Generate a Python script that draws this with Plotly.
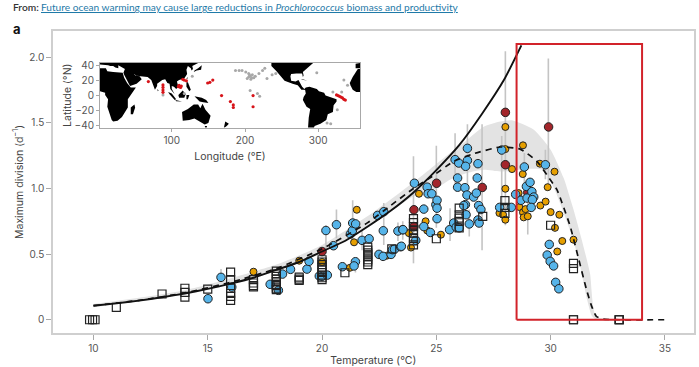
import plotly.graph_objects as go

# ---- main panel data ----
blue_t = [15.58,15.01,16.05,17.73,18.09,18.27,18.62,19.34,19.43,19.88,20.0,20.23,20.17,20.63,20.5,20.89,21.24,21.33,21.34,21.47,21.46,21.4,21.75,22.06,22.43,22.7,22.68,22.49,22.67,23.02,23.08,23.17,23.32,23.53,23.44,23.47,23.54,24.1,24.04,24.45,24.45,24.6,24.64,24.8,24.74,24.98,25.03,25.03,25.03,25.58,25.76,25.87,26.0,25.93,25.93,25.82,25.98,26.25,26.27,26.2,26.3,26.34,26.36,26.36,26.28,26.44,26.63,26.75,26.79,26.82,26.85,26.95,26.82,26.87,27.77,27.86,28.28,28.47,28.7,28.85,28.94,28.97,29.1,29.18,29.26,29.2,29.15,29.77,29.94,29.85,29.98,30.13,30.22,30.36]
blue_v = [0.323,0.16,0.249,0.27,0.224,0.348,0.384,0.386,0.445,0.333,0.33,0.34,0.68,0.724,0.564,0.404,0.653,0.68,0.737,0.73,0.442,0.41,0.605,0.617,0.795,0.823,0.678,0.498,0.483,0.498,0.534,0.537,0.676,0.686,0.556,0.56,0.686,0.605,1.04,0.843,0.71,1.01,0.96,0.96,0.665,0.877,0.91,0.85,0.77,0.686,0.737,0.706,0.7,1.08,1.01,1.22,1.194,1.006,0.877,0.87,0.8,0.95,1.306,1.214,1.169,0.73,0.935,0.965,1.08,1.189,0.87,0.84,0.76,0.737,0.856,1.293,0.856,0.955,0.91,1.164,1.016,0.927,1.047,0.976,0.935,0.915,0.856,1.181,0.574,0.493,0.445,0.41,0.285,0.236]
orange_t = [17.0,19.0,20.0,21.22,21.4,21.52,22.83,23.8,23.89,24.24,24.53,24.6,25.2,27.76,27.92,28.02,28.02,28.02,28.02,28.31,28.6,28.63,28.78,28.79,28.79,28.82,28.9,29.0,29.53,29.55,29.78,29.87,30.0,30.17,30.19,30.29,30.38,30.51,31.0]
orange_v = [0.366,0.45,0.44,0.396,0.59,0.838,0.488,0.66,0.55,0.96,0.75,0.68,0.648,0.813,0.8,1.469,1.3,0.998,0.762,1.148,0.965,0.859,1.11,1.329,0.818,0.78,0.843,0.788,1.189,0.87,0.9,1.01,0.82,1.128,0.7,0.52,0.8,0.6,0.61]
darkred_t = [20.0,24.02,24.02,25.01,27.01,28.02,28.02,29.0,29.91]
darkred_v = [0.52,0.838,0.71,1.04,1.008,1.58,1.181,0.97,1.469]
square_t = [9.83,9.96,10.07,11,13,14,14,14,15,16,16,16,16,16,16,17,17,17,17,18,18,18,18,18,18,18,18,18,19,19,19,20,20,20,20,20,20,20,20,20,21,22,22,22,22,22,22,22,22,23.05,24,24,24,24,24,24,24,24,25,26,26,26,26,26,27.03,28,28,28,30,31,31,31,31,33,33,33]
square_v = [0,0,0,0.094,0.196,0.24,0.208,0.173,0.234,0.363,0.305,0.24,0.2,0.178,0.147,0.305,0.28,0.26,0.25,0.37,0.35,0.33,0.31,0.29,0.27,0.26,0.24,0.23,0.325,0.31,0.3,0.457,0.44,0.42,0.4,0.38,0.36,0.34,0.32,0.305,0.358,0.554,0.53,0.51,0.495,0.48,0.457,0.44,0.42,0.54,0.77,0.74,0.71,0.685,0.66,0.62,0.6,0.57,0.617,0.85,0.8,0.775,0.75,0.7,0.788,0.907,0.856,0.81,0.72,0.43,0.39,0,0,0,0,0]
err_t = [15.58,20.17,20.63,21.34,21.46,21.75,22.7,23.53,23.32,24.0,25.0,25.6,25.82,26.36,26.44,27.0,27.86,28.02,28.85,29.0,29.77,29.9]
err_low = [0.29,0.53,0.62,0.6,0.36,0.53,0.57,0.61,0.6,0.43,0.7,0.6,1.0,0.95,0.635,0.53,0.78,0.72,1.0,0.65,1.07,1.0]
err_high = [0.386,0.72,0.84,0.91,0.47,0.68,0.89,0.75,0.74,1.245,1.326,0.85,1.42,1.49,0.84,1.49,1.4,2.045,1.27,0.95,1.295,1.99]

solid_t = [10,11,12,13,14,15,16,17,18,19,20,21,22,23,24,25,26,27,28,28.72]
solid_v = [0.107,0.125,0.146,0.171,0.2,0.235,0.275,0.32,0.38,0.44,0.52,0.6,0.71,0.83,0.97,1.14,1.33,1.57,1.84,2.09]
dash_t = [10,12,14,16,18,20,22,23,24,24.8,25.76,26.63,27.8,28.67,29.4,29.85,30.28,30.5,30.86,31.2,31.57,31.8,32.0,32.3,33,35]
dash_v = [0.107,0.148,0.205,0.285,0.39,0.54,0.74,0.87,1.0,1.09,1.207,1.265,1.316,1.3,1.207,1.1,0.99,0.89,0.71,0.48,0.23,0.1,0.025,0.005,0,0]
band_up_t = [10,14,18,20,22,24.15,25.6,26.34,27.07,27.8,28.3,29.25,30,30.57,31,31.36,31.72,32,33.3]
band_up_v = [0.12,0.225,0.42,0.57,0.79,1.067,1.27,1.37,1.47,1.51,1.52,1.45,1.296,1.08,0.84,0.61,0.356,0.025,0]
band_lo_t = [33.3,32,31.8,31.6,31.3,31,30.6,30.2,29.7,29,28.3,27.8,27.07,26.34,25.6,24.9,24,22,20,18,14,10]
band_lo_v = [0,0,0.03,0.15,0.4,0.6,0.8,0.98,1.14,1.15,1.135,1.13,1.143,1.118,1.067,0.99,0.94,0.7,0.51,0.37,0.195,0.095]
box_t = [28.51,34.0,34.0,28.51,28.51]
box_v = [0,0,2.1,2.1,0]
x_ticks = [10,15,20,25,30,35]
y_ticks = [0,0.5,1.0,1.5,2.0]
y_labels = ["0","0.5","1.0","1.5","2.0"]

# ---- inset map data ----
land = {
 "africa": ([2,9,9,13,12,15,18,20,26,32,35,40,40,44,51,44,39,35,33,20,12,10,2],
            [6,4,1,-5,-15,-25,-33,-35,-34,-29,-24,-16,-5,1,11,11,17,24,31,32,33,37,37]),
 "eurasia": ([2,2,13,16,20,23,27,27,36,34,35,39,43,52,59,56,50,48,51,57,67,72,74,77,80,80,87,91,94,97,98,103,104,100,100,103,106,109,107,110,117,121,120,122,126,127,129,128,133,140,140],
             [46,42,41,40,40,38,37,41,36,31,28,21,13,16,22,26,27,30,27,26,25,21,15,8,13,16,21,22,17,16,9,2,2,9,13,12,9,12,19,21,23,29,35,40,37,34,36,40,43,46,46]),
 "japan": ([130,134,140,141,136,131,130],[32,34,35,41,37,34,32]),
 "sumatra": ([95,100,106,104,97,95],[5,3,-5,-6,2,5]),
 "borneo": ([109,115,119,117,110,109],[1,7,2,-3,-3,1]),
 "java": ([105,114,114,106,105],[-6,-7,-8,-7.5,-6]),
 "sulawesi": ([120,124,122,120,120],[1,1,-5,-5,1]),
 "philippines": ([120,122,126,124,120,120],[18,18,8,6,12,18]),
 "new_guinea": ([131,141,147,150,143,138,131],[-1,-3,-6,-10,-9,-8,-1]),
 "australia": ([114,122,130,136,139,142,146,153,150,145,138,131,124,115,114],
               [-22,-18,-12,-12,-17,-11,-19,-27,-37,-39,-35,-31,-33,-34,-22]),
 "tasmania": ([145,148,148,146,145],[-41,-41,-43,-44,-41]),
 "madagascar": ([44,49,50,47,44,44],[-16,-12,-16,-25,-25,-16]),
 "sri_lanka": ([80,82,81,80],[9,7,6,9]),
 "taiwan": ([120,122,121,120],[23,25,22,23]),
 "new_zealand": ([173,178,175,171,173],[-35,-38,-41,-44,-35]),
 "north_america": ([236,236,243,250,254,265,272,277,282,278,276,273,269,263,262,263,270,278,279,280,279,284,290,293],
                   [44,40,33,25,20,16,14,8,8,12,16,21,19,20,26,29,30,30,25,27,32,36,42,44]),
 "cuba": ([276,283,285,279,276],[22,21,20,22,22]),
 "hispaniola": ([286,292,291,287,286],[19,19,18,18,19]),
 "south_america": ([280,283,288,298,301,308,310,315,325,325,321,320,313,311,303,295,294,286,287,289,284,279,280,283,282],
                   [8,11,12,9,6,4,0,-2,-5,-8,-13,-22,-25,-33,-38,-41,-44,-44,-30,-18,-15,-6,-2,3,8]),
 "west_africa": ([344,343,347,350,354,357,357,352,347,344],[14,17,25,30,36,36,5,5,8,14]),
 "iberia": ([351,351,357,357,351],[37,43,44,37,37]),
}
red_lon = [68,88,88,88,88,109,111,113,110,112,117,120,115,149,152,156,168,180,184,184,211,211,325,327,329,331,333,335,337]
red_lat = [19,14.4,11,7.6,4.5,12,12,13,14,11,21,20,22,17,18,21,0,-8,-12.6,-16,0,-15,1,0,-1,-2,-3,-5,-6]
gray_lon = [187,192,196,201,205,210,203,208,214,219,224,227,230,237,242,205,207,209,206,212,207,217,220,298,335,340,332,320,326,312,317,88,128,117]
gray_lat = [34,34,34,32,30,28,23,22,26,30,34,37,23,28,30,25,26,24,28,24,7,3,-1,31,21,14,5,5,-19,-37,-38,1,26,3]
lon_ticks = [100,200,300]
lat_ticks = [-40,-20,0,20,40]

W, H = 699, 367
FONT = "Inter"
GRAY = "#555555"
FRAME = "#cfcfcf"

def xd(p0, p1): return [p0 / W, p1 / W]
def yd(p_top, p_bot): return [1 - p_bot / H, 1 - p_top / H]

fig = go.Figure()
fig.add_trace(go.Scatter(x=band_up_t + band_lo_t, y=band_up_v + band_lo_v, mode="lines",
    line=dict(width=0, shape="spline", smoothing=0.6), fill="toself", fillcolor="#e3e3e3", hoverinfo="skip"))
for t, lo, hi in zip(err_t, err_low, err_high):
    fig.add_trace(go.Scatter(x=[t, t], y=[lo, hi], mode="lines", line=dict(color="#c4c4c4", width=1.6), hoverinfo="skip"))
fig.add_trace(go.Scatter(x=darkred_t, y=darkred_v, mode="markers",
    marker=dict(size=8.5, color="#A3262B", line=dict(width=1, color="#222222"))))
fig.add_trace(go.Scatter(x=orange_t, y=orange_v, mode="markers",
    marker=dict(size=7, color="#E69F00", line=dict(width=1, color="#222222"))))
fig.add_trace(go.Scatter(x=blue_t, y=blue_v, mode="markers",
    marker=dict(size=8.5, color="#56B4E9", line=dict(width=1, color="#222222"))))
fig.add_trace(go.Scatter(x=square_t, y=square_v, mode="markers",
    marker=dict(symbol="square-open", size=8, color="#222222", line=dict(width=1.2, color="#222222"))))
fig.add_trace(go.Scatter(x=dash_t, y=dash_v, mode="lines",
    line=dict(color="#111111", width=1.7, dash="6px,5px", shape="spline", smoothing=0.5)))
fig.add_trace(go.Scatter(x=solid_t, y=solid_v, mode="lines",
    line=dict(color="#111111", width=1.9, shape="spline", smoothing=0.5)))
fig.add_trace(go.Scatter(x=box_t, y=box_v, mode="lines", line=dict(color="#D2232A", width=2)))

# inset
for name, (lon, lat) in land.items():
    fig.add_trace(go.Scatter(x=lon, y=lat, xaxis="x2", yaxis="y2", mode="lines", name=name,
        line=dict(width=0, color="#000000"), fill="toself", fillcolor="#000000", hoverinfo="skip"))
fig.add_trace(go.Scatter(x=gray_lon, y=gray_lat, xaxis="x2", yaxis="y2", mode="markers",
    marker=dict(size=3, color="#a8a8a8")))
fig.add_trace(go.Scatter(x=red_lon, y=red_lat, xaxis="x2", yaxis="y2", mode="markers",
    marker=dict(size=3.2, color="#D7141A")))

tickfont = dict(family=FONT, size=10, color=GRAY)
annos = [
    dict(text="From:", x=11, y=7, font=dict(family="Lato", size=10.2, color="#333333", weight=600)),
    dict(text="Future ocean warming may cause large reductions in <i>Prochlorococcus</i> biomass and productivity",
         x=39, y=7, font=dict(family="Lato", size=10.15, color="#1F7AA8", lineposition="under")),
    dict(text="<b>a</b>", x=11, y=29, font=dict(family=FONT, size=13, color="#111111")),
]
annotations = [dict(xref="paper", yref="paper", x=a["x"] / W, y=1 - a["y"] / H, text=a["text"], font=a["font"],
                    showarrow=False, xanchor="left", yanchor="middle", xshift=0) for a in annos]

fig.update_layout(
    width=W, height=H, autosize=False, showlegend=False,
    paper_bgcolor="white", plot_bgcolor="rgba(0,0,0,0)",
    margin=dict(l=0, r=0, t=0, b=0),
    annotations=annotations,
    font=dict(family=FONT, color=GRAY),
    xaxis=dict(domain=xd(53, 693.5), range=[8.23, 36.25], automargin=False, tickvals=x_ticks, ticks="outside", ticklen=5, tickwidth=1,
               tickcolor="#a8a8a8", tickfont=tickfont, showgrid=False, zeroline=False, showline=True, linecolor=FRAME,
               linewidth=1.5, mirror=True, title=dict(text="Temperature (°C)", font=dict(family=FONT, size=10.5, color="#444444"), standoff=6)),
    yaxis=dict(domain=yd(31, 333), range=[-0.101, 2.2], automargin=False, tickvals=y_ticks, ticktext=y_labels, ticks="outside", ticklen=5,
               tickwidth=1, tickcolor="#a8a8a8", tickfont=tickfont, showgrid=False, zeroline=False, showline=True,
               linecolor=FRAME, linewidth=1.5, mirror=True,
               title=dict(text="Maximum division (d<sup>−1</sup>)", font=dict(family=FONT, size=10.5, color="#444444"), standoff=4)),
    xaxis2=dict(domain=xd(100, 360), range=[2, 357], automargin=False, anchor="y2", tickvals=lon_ticks, ticks="outside", ticklen=3,
                tickcolor="#a8a8a8", tickfont=tickfont, showgrid=False, zeroline=False, showline=True, linecolor="#a8a8a8",
                linewidth=1, mirror=True, title=dict(text="Longitude (°E)", font=dict(family=FONT, size=10.5, color="#444444"), standoff=8)),
    yaxis2=dict(domain=yd(63, 127.5), range=[-43, 44], automargin=False, anchor="x2", tickvals=lat_ticks, ticks="outside", ticklen=3,
                tickcolor="#a8a8a8", tickfont=tickfont, showgrid=False, zeroline=False, showline=True, linecolor="#a8a8a8",
                linewidth=1, mirror=True, title=dict(text="Latitude (°N)", font=dict(family=FONT, size=10.5, color="#444444"), standoff=0)),
)
fig.write_html("out.html", config=dict(displayModeBar=False),
               post_script="document.body.style.margin='0';document.documentElement.style.overflow='hidden';")
